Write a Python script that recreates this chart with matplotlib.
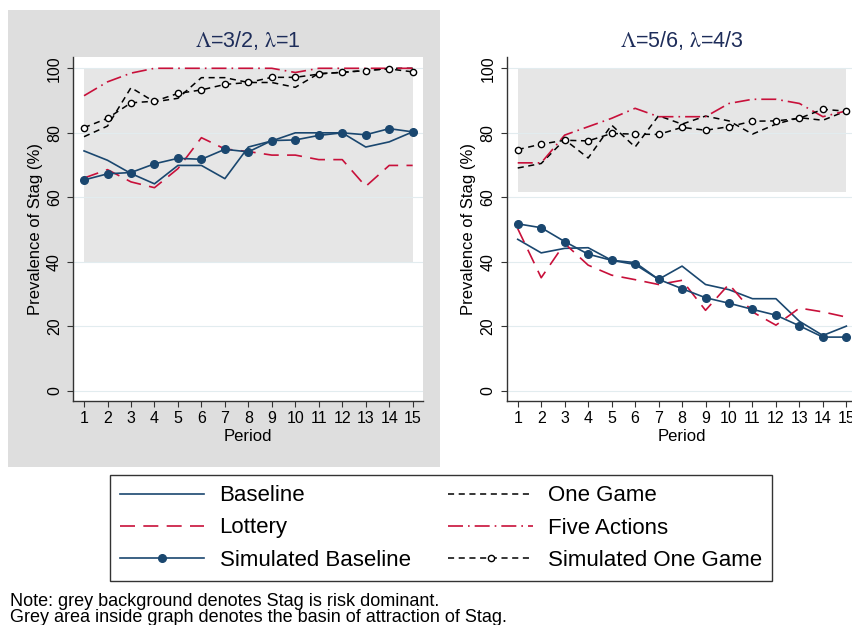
import numpy as np
import matplotlib
matplotlib.use('Agg')
import matplotlib.pyplot as plt
from matplotlib.patches import Rectangle
from matplotlib.lines import Line2D

plt.rcParams['font.family'] = ['Liberation Sans', 'DejaVu Sans']
plt.rcParams['mathtext.fontset'] = 'stix'

periods = np.arange(1, 16)

# left panel: Lambda=3/2, lambda=1
baseline_l = [74.4, 71.5, 67.4, 64.2, 69.9, 69.9, 65.8, 75.6, 77.5, 80.0, 80.0, 80.0, 75.6, 77.2, 80.3]
lottery_l = [66.0, 68.6, 64.8, 63.0, 68.9, 78.5, 75.0, 74.2, 73.1, 73.1, 71.7, 71.7, 63.4, 69.9, 69.9]
sim_base_l = [65.4, 67.3, 67.7, 70.4, 72.1, 71.8, 74.9, 74.1, 77.6, 77.8, 79.2, 80.0, 79.4, 81.3, 80.3]
one_game_l = [78.8, 82.1, 94.0, 89.6, 90.7, 97.1, 97.1, 95.6, 95.6, 94.1, 98.4, 98.7, 99.3, 100.0, 100.0]
five_act_l = [91.5, 95.8, 98.5, 100, 100, 100, 100, 100, 100, 98.7, 100, 100, 100, 100, 100]
sim_one_l = [81.6, 84.5, 89.3, 89.8, 92.2, 93.3, 95.0, 95.6, 97.2, 97.2, 98.2, 98.8, 99.3, 99.8, 98.9]
basin_l = 40

# right panel: Lambda=5/6, lambda=4/3
baseline_r = [47.0, 42.8, 44.2, 44.4, 40.5, 39.8, 34.6, 38.7, 33.0, 31.4, 28.6, 28.6, 21.6, 17.2, 20.1]
lottery_r = [50.3, 35.1, 45.7, 39.0, 35.9, 34.5, 33.0, 34.3, 25.0, 33.1, 24.5, 20.4, 25.7, 24.5, 22.9]
sim_base_r = [51.8, 50.6, 46.3, 42.4, 40.5, 39.2, 34.6, 31.7, 28.9, 27.2, 25.3, 23.5, 20.2, 16.7, 16.7]
one_game_r = [69.1, 70.5, 77.9, 72.2, 82.4, 75.6, 85.3, 82.7, 85.2, 83.7, 79.6, 82.7, 84.7, 83.9, 86.8]
five_act_r = [70.7, 70.7, 79.3, 81.9, 84.5, 87.6, 85.0, 85.0, 85.0, 89.1, 90.4, 90.4, 89.1, 85.0, 86.8]
sim_one_r = [74.8, 76.5, 77.7, 77.5, 79.8, 79.6, 79.5, 81.7, 80.8, 81.9, 83.6, 83.7, 84.5, 87.3, 86.7]
basin_r = 61.6

titles = [r'$\mathrm{\Lambda}$=3/2, $\mathrm{\lambda}$=1', r'$\mathrm{\Lambda}$=5/6, $\mathrm{\lambda}$=4/3']

navy = '#1a476f'
red = '#c8103a'
styles = {
    'Baseline': dict(color=navy, lw=1.2, ls='-'),
    'Lottery': dict(color=red, lw=1.2, ls=(0, (9, 5))),
    'Simulated Baseline': dict(color=navy, lw=1.2, ls='-', marker='o', ms=5.5),
    'One Game': dict(color='black', lw=1.1, ls=(0, (4, 3))),
    'Five Actions': dict(color=red, lw=1.2, ls=(0, (9, 3, 1, 3))),
    'Simulated One Game': dict(color='black', lw=1.1, ls=(0, (4, 3)), marker='o', ms=4.5,
                               mfc='white', mec='black', mew=1.0),
}

fig = plt.figure(figsize=(8.53, 6.25), dpi=100)
fig.patches.append(Rectangle((8/853, 1-467/625), 432/853, 457/625, transform=fig.transFigure,
                             facecolor='#dedede', edgecolor='none', zorder=-10))

panels = [
    (73/853, [baseline_l, lottery_l, sim_base_l, one_game_l, five_act_l, sim_one_l], basin_l),
    (506.7/853, [baseline_r, lottery_r, sim_base_r, one_game_r, five_act_r, sim_one_r], basin_r),
]
order = ['Baseline', 'Lottery', 'Simulated Baseline', 'One Game', 'Five Actions', 'Simulated One Game']

for k, (x0, series, basin) in enumerate(panels):
    ax = fig.add_axes([x0, 1-401/625, 350/853, 344/625])
    ax.set_facecolor('white')
    ax.add_patch(Rectangle((1, basin), 14, 100-basin, facecolor='#e6e6e6', edgecolor='none', zorder=0))
    for yv in range(0, 101, 20):
        ax.axhline(yv, color='#e2ecef', lw=0.8, zorder=0.5)
    for name, vals in zip(order, series):
        ax.plot(periods, vals, zorder=3, **styles[name])
    ax.set_xlim(0.53, 15.44)
    ax.set_ylim(-3.1, 103.5)
    ax.set_xticks(periods)
    ax.set_yticks(range(0, 101, 20))
    ax.set_yticklabels([str(v) for v in range(0, 101, 20)], rotation=90, va='center')
    ax.tick_params(direction='out', length=4, width=0.8, labelsize=11.5, color='#333333')
    ax.tick_params(axis='x', pad=3.5)
    ax.tick_params(axis='y', pad=4)
    for s in ['top', 'right']:
        ax.spines[s].set_visible(False)
    for s in ['left', 'bottom']:
        ax.spines[s].set_linewidth(1.0)
        ax.spines[s].set_color('#333333')
    ax.set_xlabel('Period', fontsize=12, labelpad=2)
    ax.set_ylabel('Prevalence of Stag (%)', fontsize=12, labelpad=3)
    ax.set_title(titles[k], fontsize=15.5, color='#1e2d5a', pad=7)

handles = [Line2D([], [], **styles[n]) for n in order]
leg = fig.legend(handles, order, loc='center', bbox_to_anchor=(441/853, 1-528/625), ncol=2,
                 fontsize=16, frameon=True, fancybox=False, edgecolor='black',
                 handlelength=3.8, handletextpad=0.7, columnspacing=1.7, labelspacing=0.5,
                 borderpad=0.45)
leg.get_frame().set_linewidth(1.0)

fig.text(10/853, 1-601/625, 'Note: grey background denotes Stag is risk dominant.', fontsize=13, va='center')
fig.text(10/853, 1-618/625, 'Grey area inside graph denotes the basin of attraction of Stag.', fontsize=13, va='center')

fig.savefig('out.png', dpi=100)
